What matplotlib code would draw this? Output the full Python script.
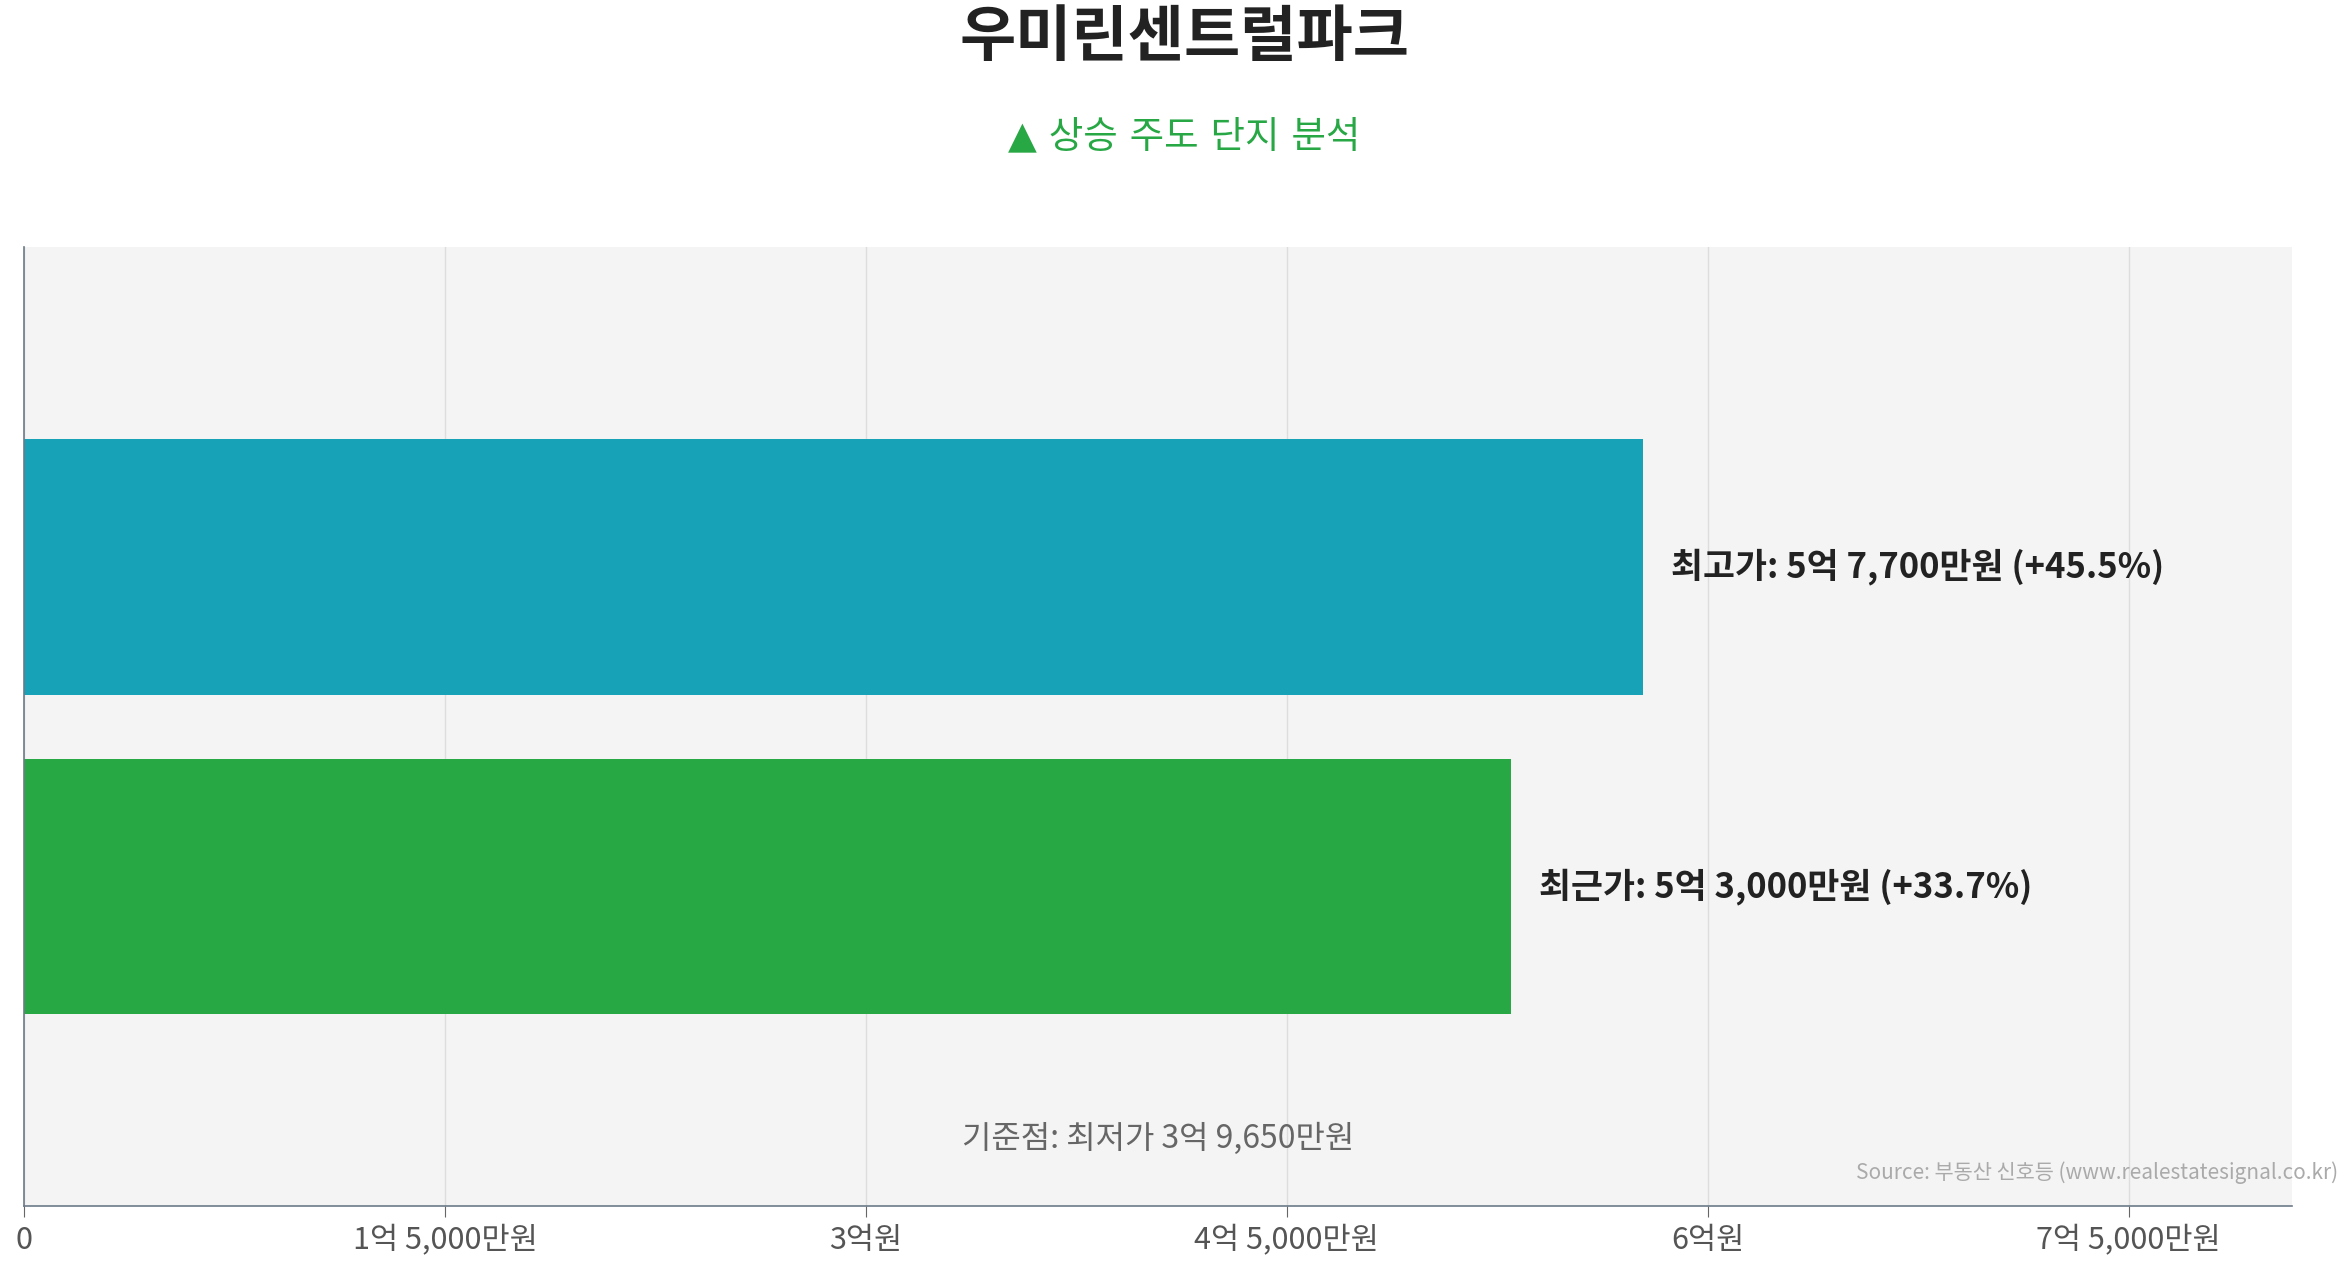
import matplotlib
matplotlib.use("Agg")
import matplotlib.pyplot as plt

plt.rcParams['font.family'] = ['Noto Sans CJK KR', 'DejaVu Sans']

# values in 만원
labels = ["최근가", "최고가"]
values = [53000, 57700]
pct = ["+33.7%", "+45.5%"]
value_text = ["5억 3,000만원", "5억 7,700만원"]
colors = ["#28a745", "#17a2b8"]
base_text = "기준점: 최저가 3억 9,650만원"
ticks = [0, 15000, 30000, 45000, 60000, 75000]
tick_labels = ["0", "1억 5,000만원", "3억원", "4억 5,000만원", "6억원", "7억 5,000만원"]

fig = plt.figure(figsize=(23.45, 12.68), dpi=100)
ax = fig.add_axes([0.0102, 0.049, 0.967, 0.756])
ax.set_facecolor("#f4f4f4")

ypos = range(len(values))
ax.barh(ypos, values, height=0.8, color=colors, zorder=2)
for y, v, name, vt, p in zip(ypos, values, labels, value_text, pct):
    ax.text(v + 1000, y, f"{name}: {vt} ({p})", va="center", ha="left",
            fontsize=25, fontweight="bold", color="#222222")

ax.set_xlim(0, 80800)
ax.set_ylim(-1, 2)
ax.set_yticks([])
ax.set_xticks(ticks)
ax.set_xticklabels(tick_labels, fontsize=22, color="#555555")
ax.tick_params(axis="x", length=8, color="#666666", pad=6)
ax.grid(axis="x", color="#dddddd", linewidth=1, zorder=0)
for s in ["top", "right"]:
    ax.spines[s].set_visible(False)
for s in ["left", "bottom"]:
    ax.spines[s].set_color("#6c7a89")
    ax.spines[s].set_linewidth(1.2)

ax.text(0.5, 0.07, base_text, transform=ax.transAxes, ha="center", va="center",
        fontsize=23, color="#666666")
fig.text(0.997, 0.075, "Source: 부동산 신호등 (www.realestatesignal.co.kr)",
         ha="right", va="center", fontsize=15, color="#aaaaaa")

fig.text(0.505, 0.97, "우미린센트럴파크", ha="center", va="center",
         fontsize=44, fontweight="bold", color="#222222")
fig.text(0.505, 0.892, "▲ 상승 주도 단지 분석", ha="center", va="center",
         fontsize=27, color="#28a745", family=["DejaVu Sans", "Noto Sans CJK KR"])

fig.savefig("out.png", dpi=100)
